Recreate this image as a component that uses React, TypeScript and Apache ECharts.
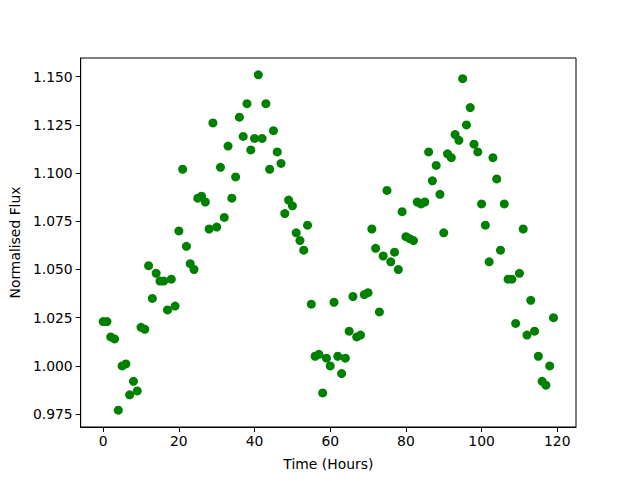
import React, { useEffect, useRef } from "react";
import * as echarts from "echarts";

const hours: number[] = Array.from({ length: 120 }, (_, i) => i);
const flux: number[] = [
  1.023, 1.023, 1.015, 1.014, 0.977, 1.0, 1.001, 0.985, 0.992, 0.987,
  1.02, 1.019, 1.052, 1.035, 1.048, 1.044, 1.044, 1.029, 1.045, 1.031,
  1.07, 1.102, 1.062, 1.053, 1.05, 1.087, 1.088, 1.085, 1.071, 1.126,
  1.072, 1.103, 1.077, 1.114, 1.087, 1.098, 1.129, 1.119, 1.136, 1.112,
  1.118, 1.151, 1.118, 1.136, 1.102, 1.122, 1.111, 1.105, 1.079, 1.086,
  1.083, 1.069, 1.065, 1.06, 1.073, 1.032, 1.005, 1.006, 0.986, 1.004,
  1.0, 1.033, 1.005, 0.996, 1.004, 1.018, 1.036, 1.015, 1.016, 1.037,
  1.038, 1.071, 1.061, 1.028, 1.057, 1.091, 1.054, 1.059, 1.05, 1.08,
  1.067, 1.066, 1.065, 1.085, 1.084, 1.085, 1.111, 1.096, 1.104, 1.089,
  1.069, 1.11, 1.108, 1.12, 1.117, 1.149, 1.125, 1.134, 1.115, 1.111,
  1.084, 1.073, 1.054, 1.108, 1.097, 1.06, 1.084, 1.045, 1.045, 1.022,
  1.048, 1.071, 1.016, 1.034, 1.018, 1.005, 0.992, 0.99, 1.0, 1.025,
];
const xTicks: number[] = [0, 20, 40, 60, 80, 100, 120];
const yTicks: number[] = [0.975, 1.0, 1.025, 1.05, 1.075, 1.1, 1.125, 1.15];

const FONT = "DejaVu Sans";
const FS = 13.9;

export default function App() {
  const ref = useRef<HTMLDivElement>(null);
  useEffect(() => {
    if (!ref.current) return;
    const chart = echarts.init(ref.current, null, { renderer: "svg" });
    const data = hours.map((h, i) => [h, flux[i]]);
    chart.setOption({
      animation: false,
      backgroundColor: "#fff",
      grid: {
        left: 80,
        right: 64,
        top: 58,
        bottom: 53,
        show: true,
        borderColor: "#000",
        borderWidth: 1,
        backgroundColor: "transparent",
      },
      xAxis: {
        type: "value",
        min: -5.95,
        max: 124.95,
        name: "Time (Hours)",
        nameLocation: "middle",
        nameGap: 30,
        nameTextStyle: { color: "#000", fontFamily: FONT, fontSize: FS },
        axisLine: { show: true, onZero: false, lineStyle: { color: "#000", width: 1 } },
        axisTick: { show: true, inside: false, length: 5, customValues: xTicks, lineStyle: { color: "#000" } },
        axisLabel: { customValues: xTicks, color: "#000", fontFamily: FONT, fontSize: FS, margin: 7 },
        splitLine: { show: false },
      },
      yAxis: {
        type: "value",
        min: 0.9683,
        max: 1.1597,
        name: "Normalised Flux",
        nameLocation: "middle",
        nameGap: 58,
        nameRotate: 90,
        nameTextStyle: { color: "#000", fontFamily: FONT, fontSize: FS },
        axisLine: { show: true, onZero: false, lineStyle: { color: "#000", width: 1 } },
        axisTick: { show: true, inside: false, length: 5, customValues: yTicks, lineStyle: { color: "#000" } },
        axisLabel: {
          customValues: yTicks,
          color: "#000",
          fontFamily: FONT,
          fontSize: FS,
          margin: 8,
          formatter: (v: number) => v.toFixed(3),
        },
        splitLine: { show: false },
      },
      series: [
        {
          type: "scatter",
          data,
          symbol: "circle",
          symbolSize: 9,
          itemStyle: { color: "#008000", opacity: 1 },
        },
      ],
    });
    return () => chart.dispose();
  }, []);
  return (
    <div
      ref={ref}
      style={{ position: "fixed", left: 0, top: 0, width: 640, height: 480 }}
    />
  );
}
